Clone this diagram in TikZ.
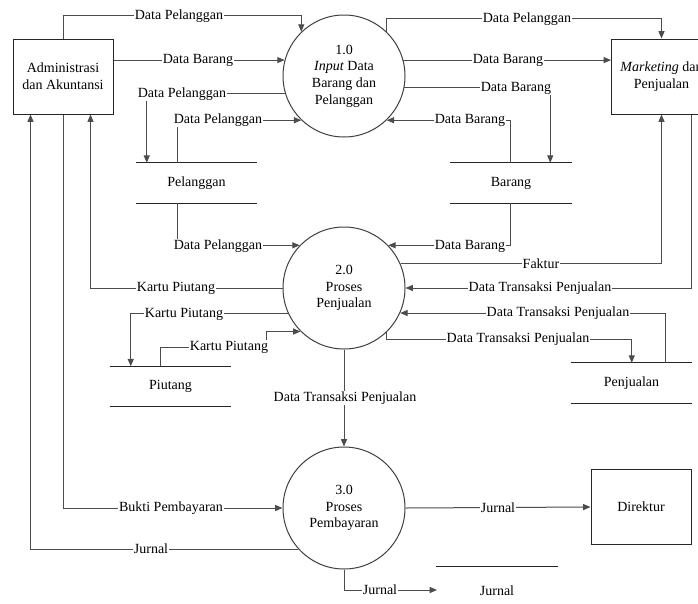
\documentclass[tikz,border=0pt]{standalone}
\usepackage{fontspec}
\setmainfont{Liberation Serif}
\usetikzlibrary{arrows.meta,calc}
\begin{document}
\begin{tikzpicture}[x=0.75pt,y=-0.75pt,
  font=\fontsize{10.5}{12.5}\selectfont,
  ln/.style={draw=black!70,line width=0.75pt},
  arr/.style={ln,-{Triangle[length=5.5pt,width=4.5pt]}},
  ent/.style={draw=black!85,line width=0.75pt,minimum width=75pt,minimum height=56.25pt,inner sep=0pt,align=center},
  proc/.style={circle,draw=black!75,line width=0.75pt,minimum size=91.5pt,inner sep=0pt,align=center},
  store/.style={minimum width=90.75pt,minimum height=30pt,inner sep=0pt},
  stline/.style={draw=black!85,line width=0.75pt},
  lbl/.style={fill=white,inner sep=0.6pt}]
\useasboundingbox (0,0) rectangle (698,603);
\clip (0,0) rectangle (698,603);
\fill[white] (0,0) rectangle (698,603);

% entities
\node[ent] (admin) at (63,76.5) {Administrasi\\dan Akuntansi};
\node[ent] (mkt) at (661.5,76.5) {\textit{Marketing} dan\\Penjualan};
\node[ent] (dir) at (641,507) {Direktur};

% processes
\node[proc] (c1) at (344,76) {1.0\\\textit{Input} Data\\Barang dan\\Pelanggan};
\node[proc] (c2) at (344,288) {2.0\\Proses\\Penjualan};
\node[proc] (c3) at (344,508) {3.0\\Proses\\Pembayaran};

% stores
\node[store] (pel) at (196.5,183) {Pelanggan};
\node[store] (bar) at (511,183) {Barang};
\node[store] (piu) at (170.5,386.5) {Piutang};
\node[store] (pen) at (631.5,383) {Penjualan};
\node[store,minimum height=36pt] (jur) at (497,591) {Jurnal};
\foreach \s in {pel,bar,piu,pen,jur}
  \draw[stline] (\s.north west) -- (\s.north east) (\s.south west) -- (\s.south east);

% flows around 1.0
\draw[arr] (admin.north) -- ++(0,-23) -| (c1.134);
\draw[arr] (admin.east |- c1.165) -- (c1.165);
\draw[arr] (c1.197) -| ($(pel.north west)+(11,0)$);
\draw[arr] ($(pel.north west)+(42,0)$) |- (c1.226);
\draw[arr] (c1.46) -- ++(0,-13) -| (mkt.north);
\draw[arr] (c1.15) -- (mkt.west |- c1.15);
\draw[arr] (c1.349) -| ($(bar.north west)+(100,0)$);
\draw[arr] ($(bar.north west)+(60,0)$) |- (c1.314);

% flows around 2.0
\draw[arr] ($(pel.south west)+(42,0)$) |- (c2.136);
\draw[arr] ($(bar.south west)+(60,0)$) |- (c2.44);
\draw[arr] (c2.23) -| (mkt.south);
\draw[arr] ($(mkt.south)+(29.5,0)$) |- (c2.east);
\draw[arr] (c2.west) -| ($(admin.south west)+(78,0)$);
\draw[arr] (c2.205) -| ($(piu.north west)+(21,0)$);
\draw[arr] ($(piu.north west)+(51,0)$) -- ++(0,-19) -- ++(106,0) |- (c2.225);
\draw[arr] (c2.314) -- ++(0,7) -| ($(pen.north west)+(61,0)$);
\draw[arr] ($(pen.north west)+(95,0)$) |- (c2.336);
\draw[arr] (c2.south) -- (c3.north);

% flows around 3.0
\draw[arr] (admin.south) |- (c3.west);
\draw[arr] (c3.222) -| ($(admin.south west)+(18,0)$);
\draw[arr] (c3.east) -- (dir.west);
\coordinate (jend) at (437,590);
\draw[arr] (c3.south) |- (jend);

% labels
\node[lbl] (l1) at (179,16) {Data Pelanggan};
\node[lbl] (l2) at (198,60) {Data Barang};
\node[lbl] (l3) at (182,94) {Data Pelanggan};
\node[lbl] (l4) at (218,120) {Data Pelanggan};
\node[lbl] (l5) at (527,19) {Data Pelanggan};
\node[lbl] (l6) at (508,60) {Data Barang};
\node[lbl] (l7) at (516,88) {Data Barang};
\node[lbl] (l8) at (470,120) {Data Barang};
\node[lbl] (l9) at (218,246) {Data Pelanggan};
\node[lbl] (l10) at (470,246) {Data Barang};
\node[lbl] (l11) at (541,264) {Faktur};
\node[lbl] (l12) at (540,288) {Data Transaksi Penjualan};
\node[lbl] (l13) at (176,288) {Kartu Piutang};
\node[lbl] (l14) at (184,314) {Kartu Piutang};
\node[lbl] (l15) at (229,347) {Kartu Piutang};
\node[lbl] (l16) at (558,313) {Data Transaksi Penjualan};
\node[lbl] (l17) at (518,339) {Data Transaksi Penjualan};
\node[lbl] (l18) at (345,398) {Data Transaksi Penjualan};
\node[lbl] (l19) at (171,508) {Bukti Pembayaran};
\node[lbl] (l20) at (151,549) {Jurnal};
\node[lbl] (l21) at (498,508) {Jurnal};
\node[lbl] (l22) at (380,590) {Jurnal};
\end{tikzpicture}
\end{document}
